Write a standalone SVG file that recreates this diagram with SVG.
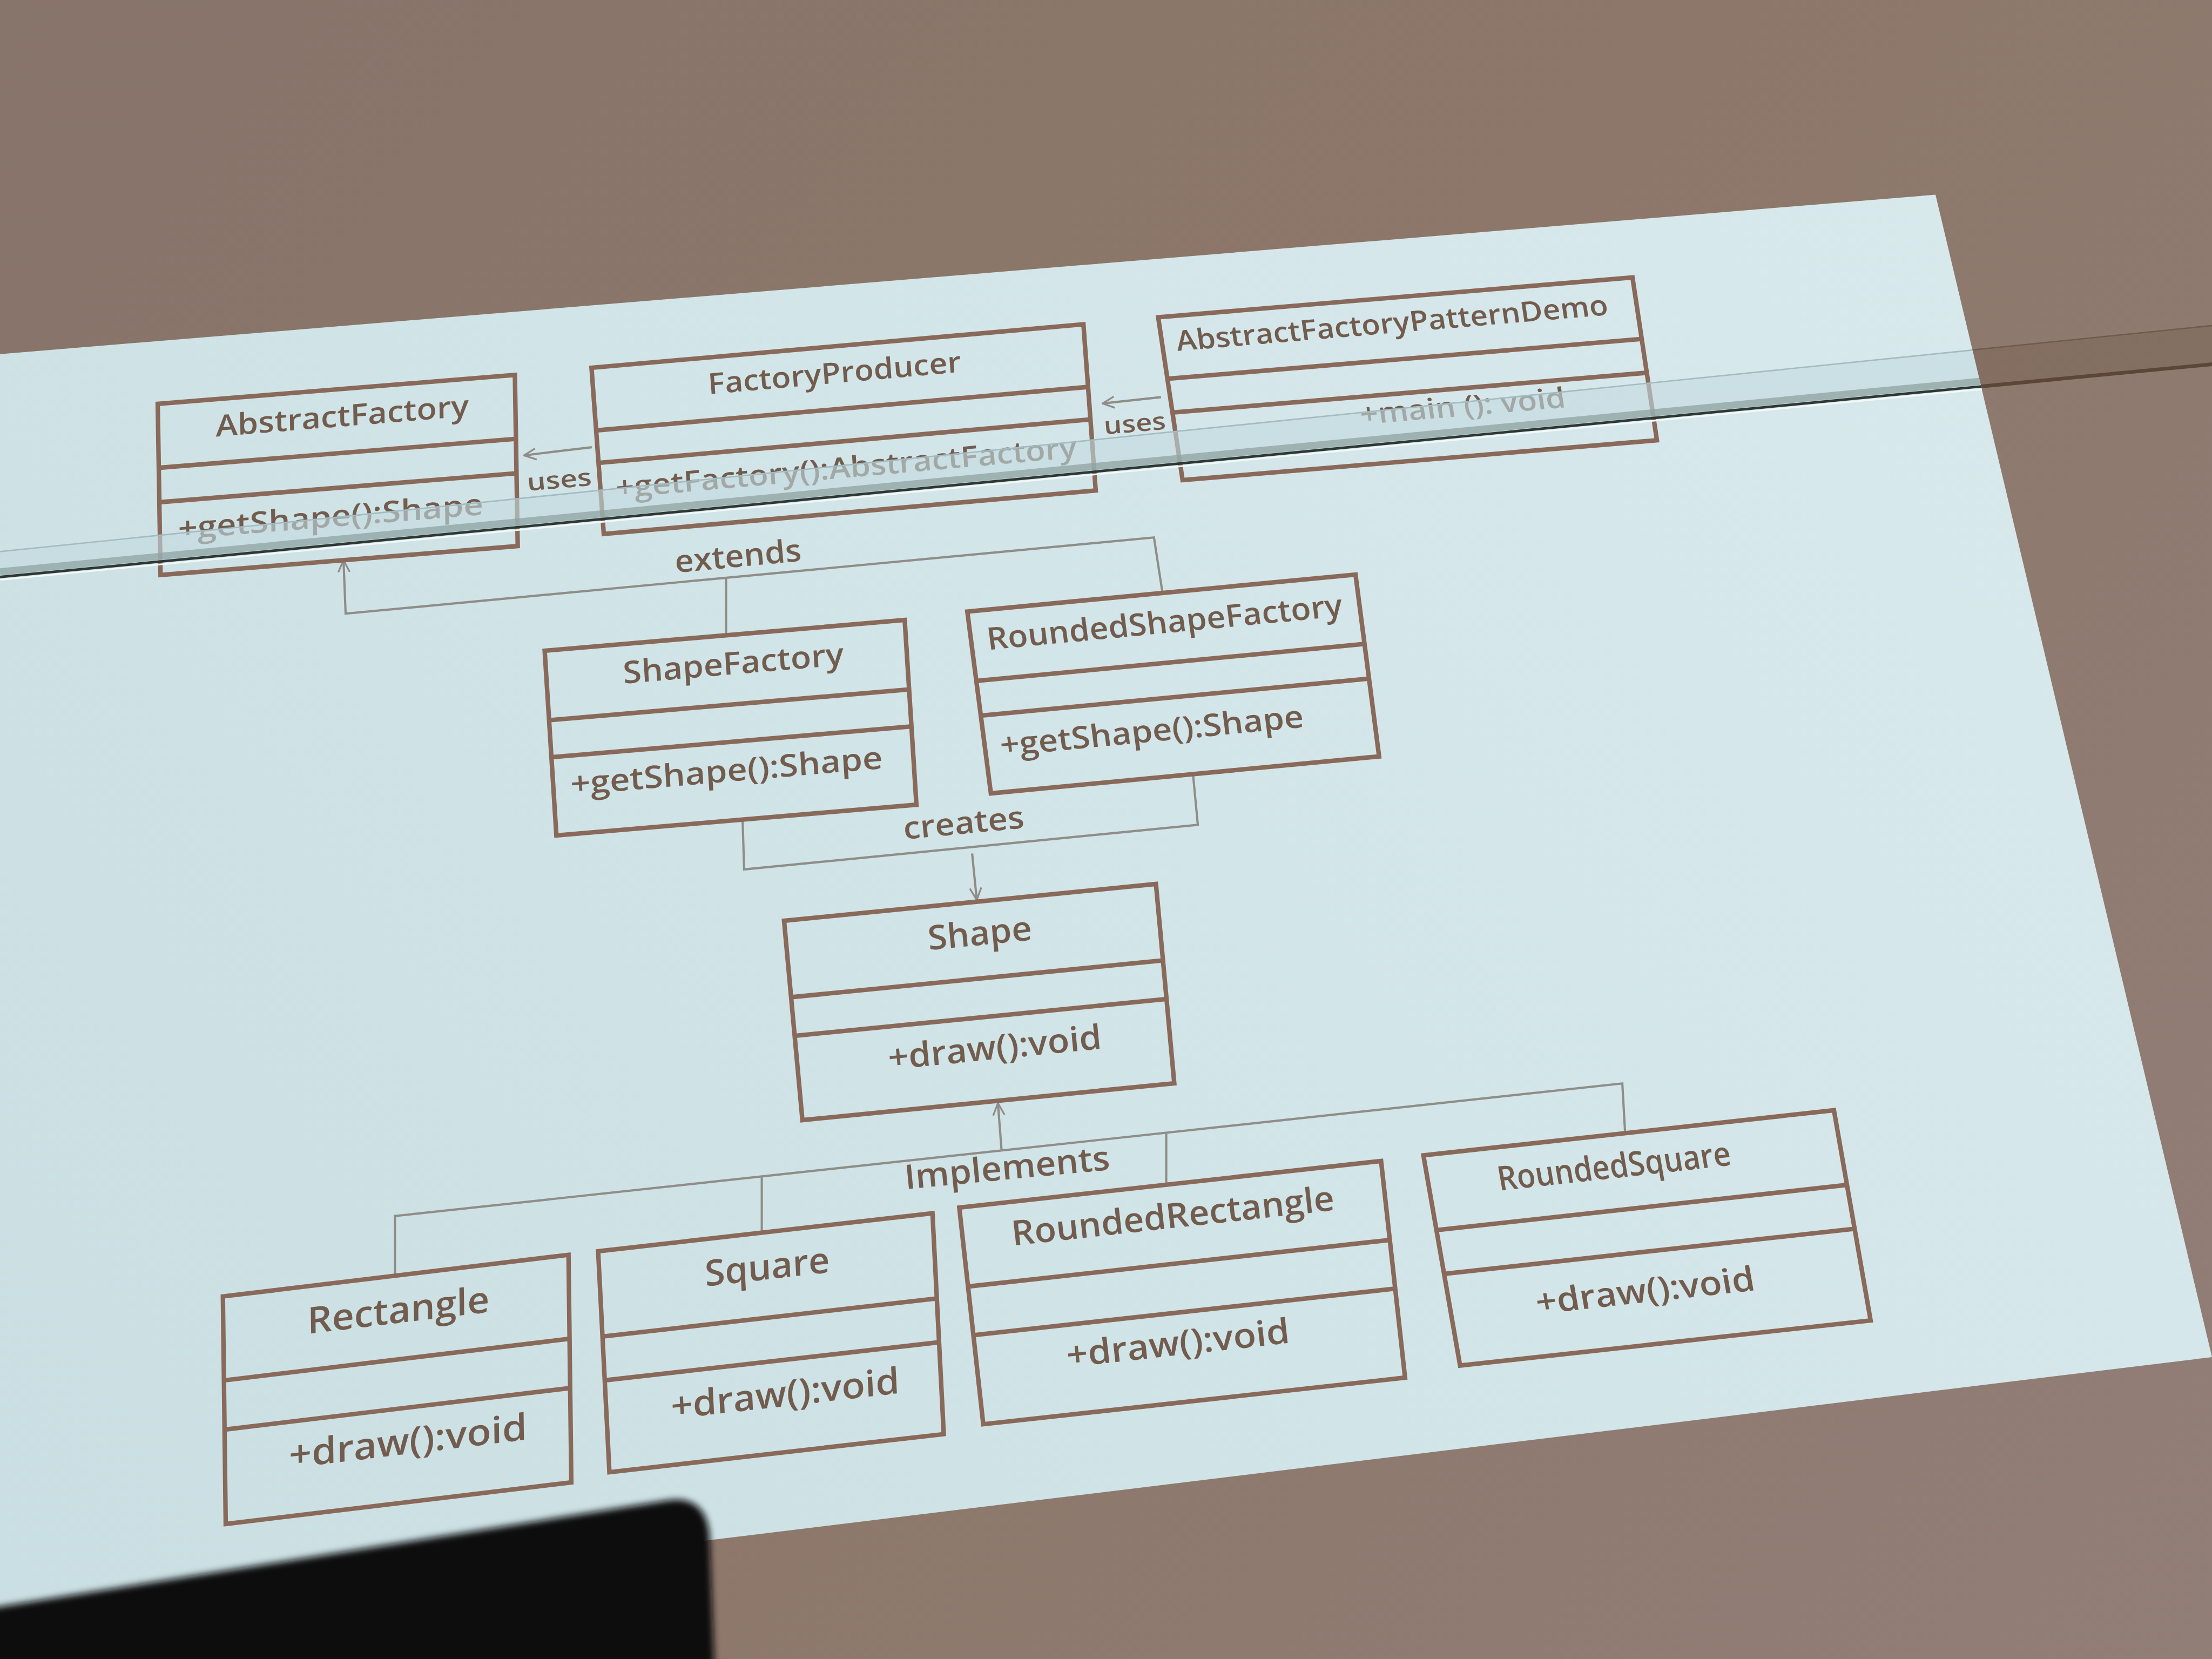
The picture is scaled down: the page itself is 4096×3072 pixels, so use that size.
<svg xmlns="http://www.w3.org/2000/svg" width="4096" height="3072" viewBox="0 0 4096 3072">
<defs>
<style>
.box{fill:none;stroke:#89695a;stroke-width:3.2}
.div{stroke:#89695a;stroke-width:3.2}
.t{font-family:"Open Sans","Liberation Sans",sans-serif;font-weight:600;fill:#725c4e}
.conn{fill:none;stroke:#8f8d89;stroke-width:1.6}
.lbl{font-family:"Open Sans","Liberation Sans",sans-serif;font-weight:600;fill:#725c4e}
</style>
<linearGradient id="wall" gradientUnits="userSpaceOnUse" x1="0" y1="0" x2="1568" y2="1176">
<stop offset="0" stop-color="#87746a"/>
<stop offset="0.5" stop-color="#8d776a"/>
<stop offset="1" stop-color="#917e77"/>
</linearGradient>
<linearGradient id="scr" gradientUnits="userSpaceOnUse" x1="1372" y1="138" x2="0" y2="1140">
<stop offset="0" stop-color="#d8e9ec"/>
<stop offset="1" stop-color="#cadfe3"/>
</linearGradient>
<marker id="arr" viewBox="0 0 10 10" refX="9.5" refY="5" markerWidth="9" markerHeight="10" markerUnits="userSpaceOnUse" orient="auto">
<path d="M0,0.5 L9.5,5 L0,9.5" fill="none" stroke="#8f8d89" stroke-width="1.4"/>
</marker>
<clipPath id="scrclip"><path d="M0,251 L766,188 L1372,138 L1568,962 L0,1153 Z"/></clipPath>
<filter id="blur" x="-10%" y="-10%" width="120%" height="120%"><feGaussianBlur stdDeviation="2.5"/></filter>
</defs>
<g transform="scale(2.61224)">
<g id="background">
<rect x="0" y="0" width="1568" height="1176" fill="url(#wall)"/>
<path d="M1340,254 L1568,230.8 L1568,258.2 L1340,280.1 Z" fill="#7c6659" fill-opacity="0.55"/>
<path d="M1340,254 L1568,230.8" fill="none" stroke="#6f5b4d" stroke-width="1"/>
<path d="M1340,280.1 L1568,258.2" fill="none" stroke="#5b4637" stroke-width="2.6"/>
<path d="M0,251 L766,188 L1372,138 L1568,962 L0,1153 Z" fill="url(#scr)"/>
</g>
<g id="connectors">
<path class="conn" d="M419.5,317 L371.5,322.8" marker-end="url(#arr)"/>
<text class="lbl" x="374" y="348" font-size="17" textLength="46" lengthAdjust="spacingAndGlyphs" transform="rotate(-5 374 348)">uses</text>
<path class="conn" d="M823,281.5 L781.5,286" marker-end="url(#arr)"/>
<text class="lbl" x="783" y="308" font-size="17" textLength="44" lengthAdjust="spacingAndGlyphs" transform="rotate(-5 783 308)">uses</text>
<path class="conn" d="M824,420 L818,381 L245,435 L243.5,397" marker-end="url(#arr)"/>
<path class="conn" d="M514.7,450 L514.7,409.4"/>
<text class="lbl" x="479" y="406" font-size="22" textLength="90" lengthAdjust="spacingAndGlyphs" transform="rotate(-5.4 479 406)">extends</text>
<path class="conn" d="M526.4,581 L527.5,616.3 L849.1,584.7 L845.7,549"/>
<path class="conn" d="M689.1,605 L692.4,638" marker-end="url(#arr)"/>
<text class="lbl" x="641" y="595" font-size="22" textLength="86" lengthAdjust="spacingAndGlyphs" transform="rotate(-5.5 641 595)">creates</text>
<path class="conn" d="M280,904 L280,862 L1150,768 L1152,803.5"/>
<path class="conn" d="M540,834 L540,873.5"/>
<path class="conn" d="M826.7,803.2 L826.7,839.5"/>
<path class="conn" d="M710,815.7 L707.4,782" marker-end="url(#arr)"/>
<text class="lbl" x="642" y="843" font-size="24" textLength="146" lengthAdjust="spacingAndGlyphs" transform="rotate(-5.5 642 843)">Implements</text>
</g>
<g id="AbstractFactory" transform="matrix(0.9968 -0.0807 0.0165 1 111.8 286.3)">
<rect class="box" width="254" height="121.3"/>
<line class="div" x1="0" y1="45.3" x2="254" y2="45.3"/>
<line class="div" x1="0" y1="69.7" x2="254" y2="69.7"/>
<text class="t" x="40.9" y="26.5" font-size="21" textLength="180" lengthAdjust="spacingAndGlyphs">AbstractFactory</text>
<text class="t" x="13" y="97" font-size="21" textLength="217" lengthAdjust="spacingAndGlyphs">+getShape():Shape</text>
</g>
<g id="FactoryProducer" transform="matrix(0.996 -0.088 0.0737 0.9975 419.3 260.7)">
<rect class="box" width="350.1" height="118.1"/>
<line class="div" x1="0" y1="44.5" x2="350.1" y2="44.5"/>
<line class="div" x1="0" y1="67.6" x2="350.1" y2="67.6"/>
<text class="t" x="81.5" y="26" font-size="20.5" textLength="180" lengthAdjust="spacingAndGlyphs">FactoryProducer</text>
<text class="t" x="10.8" y="93.5" font-size="20.5" textLength="328" lengthAdjust="spacingAndGlyphs">+getFactory():AbstractFactory</text>
</g>
<g id="AbstractFactoryPatternDemo" transform="matrix(0.9965 -0.0836 0.1482 0.9889 821 224.9)">
<rect class="box" width="337.4" height="116.7"/>
<line class="div" x1="0" y1="44.1" x2="337.4" y2="44.1"/>
<line class="div" x1="0" y1="68.3" x2="337.4" y2="68.3"/>
<text class="t" x="10.1" y="25" font-size="20" textLength="307" lengthAdjust="spacingAndGlyphs">AbstractFactoryPatternDemo</text>
<text class="t" x="131.5" y="88" font-size="20" textLength="146" lengthAdjust="spacingAndGlyphs">+main (): void</text>
</g>
<g id="ShapeFactory" transform="matrix(0.9965 -0.0851 0.0633 0.998 386.1 461.3)">
<rect class="box" width="256.1" height="131.2"/>
<line class="div" x1="0" y1="49.3" x2="256.1" y2="49.3"/>
<line class="div" x1="0" y1="75.6" x2="256.1" y2="75.6"/>
<text class="t" x="54.4" y="28" font-size="22" textLength="157" lengthAdjust="spacingAndGlyphs">ShapeFactory</text>
<text class="t" x="12.2" y="103.5" font-size="22" textLength="222" lengthAdjust="spacingAndGlyphs">+getShape():Shape</text>
</g>
<g id="RoundedShapeFactory" transform="matrix(0.9956 -0.0948 0.1285 0.9915 685.7 433.5)">
<rect class="box" width="276.4" height="130"/>
<line class="div" x1="0" y1="49.6" x2="276.4" y2="49.6"/>
<line class="div" x1="0" y1="74.4" x2="276.4" y2="74.4"/>
<text class="t" x="11.2" y="28.5" font-size="22" textLength="253" lengthAdjust="spacingAndGlyphs">RoundedShapeFactory</text>
<text class="t" x="10.8" y="104.3" font-size="22" textLength="216" lengthAdjust="spacingAndGlyphs">+getShape():Shape</text>
</g>
<g id="Shape" transform="matrix(0.9951 -0.0985 0.0916 0.9958 555.8 652.7)">
<rect class="box" width="264.9" height="141.9"/>
<line class="div" x1="0" y1="54.4" x2="264.9" y2="54.4"/>
<line class="div" x1="0" y1="81.9" x2="264.9" y2="81.9"/>
<text class="t" x="100.3" y="30.8" font-size="24" textLength="74" lengthAdjust="spacingAndGlyphs">Shape</text>
<text class="t" x="64.5" y="112.4" font-size="24" textLength="152" lengthAdjust="spacingAndGlyphs">+draw():void</text>
</g>
<g id="Rectangle" transform="matrix(0.9927 -0.1195 0.0124 1 158 919)">
<rect class="box" width="246.8" height="161.3"/>
<line class="div" x1="0" y1="59.5" x2="246.8" y2="59.5"/>
<line class="div" x1="0" y1="94.4" x2="246.8" y2="94.4"/>
<text class="t" x="60" y="33.7" font-size="26" textLength="130" lengthAdjust="spacingAndGlyphs">Rectangle</text>
<text class="t" x="45.7" y="127.2" font-size="26" textLength="170" lengthAdjust="spacingAndGlyphs">+draw():void</text>
</g>
<g id="Square" transform="matrix(0.9937 -0.1132 0.051 0.9987 424 887)">
<rect class="box" width="238.5" height="156.8"/>
<line class="div" x1="0" y1="60.5" x2="238.5" y2="60.5"/>
<line class="div" x1="0" y1="91.6" x2="238.5" y2="91.6"/>
<text class="t" x="74.8" y="33.4" font-size="25.5" textLength="89" lengthAdjust="spacingAndGlyphs">Square</text>
<text class="t" x="46" y="124.3" font-size="25.5" textLength="163" lengthAdjust="spacingAndGlyphs">+draw():void</text>
</g>
<g id="RoundedRectangle" transform="matrix(0.994 -0.1097 0.11 0.994 680 856)">
<rect class="box" width="300.8" height="154.5"/>
<line class="div" x1="0" y1="56.3" x2="300.8" y2="56.3"/>
<line class="div" x1="0" y1="91" x2="300.8" y2="91"/>
<text class="t" x="34.8" y="31" font-size="24.5" textLength="230" lengthAdjust="spacingAndGlyphs">RoundedRectangle</text>
<text class="t" x="64" y="121" font-size="24.5" textLength="159" lengthAdjust="spacingAndGlyphs">+draw():void</text>
</g>
<g id="RoundedSquare" transform="matrix(0.9939 -0.1093 0.1718 0.9849 1009 819)">
<rect class="box" width="292.8" height="151.3"/>
<line class="div" x1="0" y1="53.8" x2="292.8" y2="53.8"/>
<line class="div" x1="0" y1="85.3" x2="292.8" y2="85.3"/>
<text class="t" x="49" y="30.8" font-size="24" textLength="166" lengthAdjust="spacingAndGlyphs">RoundedSquare</text>
<text class="t" x="60.6" y="121" font-size="24" textLength="156" lengthAdjust="spacingAndGlyphs">+draw():void</text>
</g>
<g id="glass" clip-path="url(#scrclip)">
<path d="M0,391 L1568,230.8 L1568,258.2 L0,409 Z" fill="#c3dbe0" fill-opacity="0.6"/>
<path d="M0,405.3 L1568,254.5" fill="none" stroke="#8fa3a1" stroke-width="5" stroke-opacity="0.75"/>
<path d="M0,391 L1568,230.8" fill="none" stroke="#a3bbc0" stroke-width="1"/>
<path d="M0,411 L1568,260.2" fill="none" stroke="#f2f8f8" stroke-width="1.2"/>
<path d="M0,409 L1568,258.2" fill="none" stroke="#2e3733" stroke-width="1.8"/>
</g>
<path id="foreground-object" d="M-20,1142 L470,1064 Q500,1058 503,1088 L507,1200 L-20,1200 Z" fill="#0e0b0b" filter="url(#blur)"/>
</g>
</svg>
